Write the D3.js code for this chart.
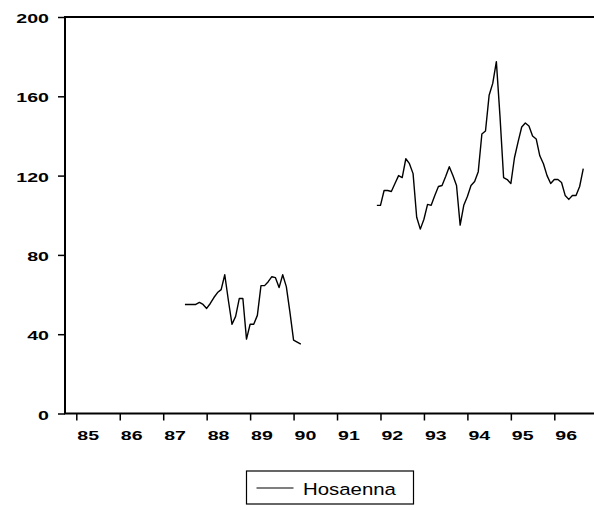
<!DOCTYPE html>
<html><head><meta charset="utf-8">
<script src="https://cdn.jsdelivr.net/npm/d3@7"></script>
<style>body{margin:0;background:#fff}svg{display:block}</style>
</head><body><svg id="c" width="594" height="510"></svg>
<script>
// ---- data ----
const seriesName = "Hosaenna";
const xTickLabels = ["85","86","87","88","89","90","91","92","93","94","95","96"];
const xTickYears = [1985,1986,1987,1988,1989,1990,1991,1992,1993,1994,1995,1996];
const yTickValues = [0,40,80,120,160,200];
const seg1Start = {year:1987, month:7};
const seg1Values = [55,55,55,55,56,55,53,55.5,58.5,61,62.5,70,57,45,49,58,58,37.5,45,45,49.5,64.5,64.5,66.5,69,68.5,63.5,70,64,51,37,36,35];
const seg2Start = {year:1991, month:12};
const seg2Values = [105,105,112.5,112.5,112,116,120,119,128.5,126,121,99,93,98,105.5,105,110,114.5,115,119.5,124.5,120,115,95,105,109.5,115,117,122,141,142.5,160.5,166.5,177.5,150,119,118,116,129,137,144.5,146.5,145,140,138.5,130,126,120,116,118,118,116.5,110,108,110,110,114.5,123.5];

const toPoints = (start, vals) => vals.map((v,i)=>({t: start.year + (start.month-1+i)/12, v}));
const segments = [toPoints(seg1Start, seg1Values), toPoints(seg2Start, seg2Values)];

// ---- layout ----
const svg = d3.select("#c");
const pLeft = 65, pTop = 17, pBottom = 413.5, pRight = 600;
const x = d3.scaleLinear().domain([1985, 1996]).range([76.3, 554.3]);
const y = d3.scaleLinear().domain([0, 200]).range([pBottom, pTop]);
const font = "'Liberation Sans', Arial, sans-serif";

// frame
svg.append("path")
  .attr("d", `M${pRight},${pTop}H${pLeft}V${pBottom}H${pRight}`)
  .attr("fill","none").attr("stroke","#000").attr("stroke-width",2);

// y axis
const yAxis = svg.append("g").attr("transform",`translate(${pLeft},0)`)
  .call(d3.axisLeft(y).tickValues(yTickValues).tickSize(7).tickFormat(d3.format("d")));
yAxis.select(".domain").remove();
yAxis.selectAll(".tick line").attr("stroke","#000").attr("stroke-width",1.5);
yAxis.selectAll(".tick text").remove();
yAxis.selectAll(".tick").append("text")
  .attr("transform","translate(-16,5.5) scale(1.45,1)")
  .attr("text-anchor","end").attr("fill","#000")
  .style("font-family",font).style("font-size","13.5px").style("font-weight","bold")
  .text(d=>d3.format("d")(d));

// x axis
const xAxis = svg.append("g").attr("transform",`translate(0,${pBottom})`)
  .call(d3.axisBottom(x).tickValues(xTickYears).tickSize(7).tickFormat((d,i)=>xTickLabels[i]));
xAxis.select(".domain").remove();
xAxis.selectAll(".tick line").attr("stroke","#000").attr("stroke-width",1.5);
xAxis.selectAll(".tick text").remove();
xAxis.selectAll(".tick").append("text")
  .attr("transform","translate(0.5,26) scale(1.45,1)")
  .attr("text-anchor","start").attr("fill","#000")
  .style("font-family",font).style("font-size","13.5px").style("font-weight","bold")
  .text((d,i)=>xTickLabels[i]);

// lines
const line = d3.line().x(d=>x(d.t)).y(d=>y(d.v));
svg.append("g").selectAll("path").data(segments).join("path")
  .attr("d", line).attr("fill","none").attr("stroke","#000")
  .attr("stroke-width",1.4).attr("stroke-linejoin","round");

// legend
const lg = svg.append("g").attr("transform","translate(246.5,471)");
lg.append("rect").attr("width",167).attr("height",33)
  .attr("fill","#fff").attr("stroke","#000").attr("stroke-width",1.2);
lg.append("line").attr("x1",10).attr("x2",47).attr("y1",17).attr("y2",17)
  .attr("stroke","#000").attr("stroke-width",1.2);
lg.append("text").attr("transform","translate(56.5,23.8) scale(1.2,1)")
  .attr("fill","#000").style("font-family",font).style("font-size","17px")
  .text(seriesName);
</script></body></html>
